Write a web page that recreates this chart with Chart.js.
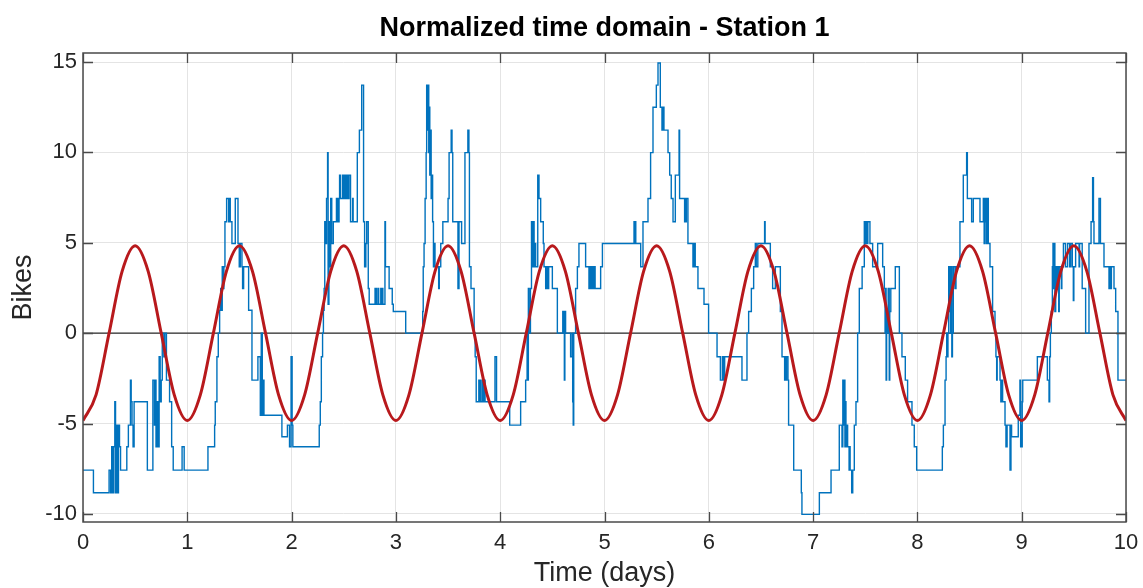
<!DOCTYPE html>
<html>
<head>
<meta charset="utf-8">
<script src="https://cdn.jsdelivr.net/npm/chart.js@4.4.0/dist/chart.umd.min.js"></script>
<style>
  html, body { margin: 0; padding: 0; background: #fff; }
</style>
</head>
<body>
<canvas id="stationChart" width="1143" height="588"></canvas>
<script>
// Tick labels
const xTicks = [0, 1, 2, 3, 4, 5, 6, 7, 8, 9, 10];
const yTicks = [-10, -5, 0, 5, 10, 15];

// Normalized bike count as [time (days), bikes], stairs-style
const bikeSteps = [
  [0,-7.58],[0.10,-8.83],[0.25,-7.58],[0.265,-8.83],[0.275,-6.29],[0.285,-8.83],[0.295,-6.29],[0.305,-3.80],
  [0.312,-8.83],[0.322,-5.09],[0.33,-8.83],[0.34,-5.09],[0.35,-6.29],[0.36,-7.58],[0.42,-6.29],[0.435,-5.09],
  [0.455,-2.60],[0.462,-3.80],[0.47,-5.09],[0.48,-6.29],[0.49,-3.80],[0.617,-7.58],[0.67,-2.60],[0.685,-5.09],
  [0.69,-2.60],[0.70,-6.29],[0.71,-3.80],[0.72,-6.29],[0.73,-1.31],[0.74,-3.80],[0.75,-2.60],[0.76,0],
  [0.775,-1.31],[0.785,0],[0.80,-2.60],[0.83,-3.80],[0.85,-6.29],[0.865,-7.58],[0.95,-6.29],[0.97,-7.58],
  // day 1
  [1.198,-6.29],[1.262,-5.09],[1.268,-3.80],[1.284,-1.31],[1.297,0],[1.31,1.27],[1.32,2.47],[1.326,1.27],
  [1.335,3.67],[1.345,2.47],[1.351,3.67],[1.361,6.16],[1.377,7.45],[1.396,6.16],[1.403,7.45],[1.412,6.16],
  [1.428,4.96],[1.46,7.45],[1.486,4.96],[1.498,3.67],[1.508,4.96],[1.524,3.67],[1.53,2.47],[1.54,3.67],
  [1.588,1.27],[1.62,-2.60],[1.677,-1.31],[1.70,-4.54],[1.709,0],[1.719,-4.54],[1.725,-2.60],[1.735,-4.54],
  [1.907,-5.73],[1.96,-5.09],[1.98,-6.29],[1.995,-1.31],[2.005,-5.09],[2.012,-6.29],
  // day 2
  [2.265,-5.09],[2.275,-3.80],[2.285,-1.31],[2.297,0],[2.305,1.27],[2.312,2.47],[2.318,6.16],[2.33,4.96],
  [2.335,7.45],[2.345,9.99],[2.35,1.6],[2.358,6.16],[2.366,3.67],[2.375,7.45],[2.385,4.96],[2.40,6.16],
  [2.43,7.45],[2.435,6.16],[2.44,7.45],[2.445,6.16],[2.455,7.45],[2.46,8.74],[2.47,7.45],[2.49,8.74],
  [2.50,7.45],[2.51,8.74],[2.52,7.45],[2.53,8.74],[2.54,7.45],[2.55,8.74],[2.565,6.16],[2.585,7.45],
  [2.59,6.16],[2.63,9.99],[2.65,11.23],[2.672,13.72],[2.69,6.16],[2.70,3.67],[2.712,4.96],[2.72,6.16],
  [2.735,2.47],[2.744,1.6],[2.80,2.47],[2.805,1.6],[2.81,2.47],[2.815,1.6],[2.83,2.47],[2.835,1.6],
  [2.855,2.47],[2.86,1.6],[2.87,2.47],[2.875,1.6],[2.895,6.16],[2.90,3.67],[2.935,2.47],[2.965,1.6],
  [2.975,1.2],
  // day 3
  [3.094,0],[3.257,1.2],[3.262,3.67],[3.27,4.96],[3.28,7.45],[3.29,9.99],[3.295,13.72],[3.302,11.23],
  [3.31,13.72],[3.315,9.99],[3.32,12.5],[3.325,8.74],[3.33,11.23],[3.338,7.45],[3.345,8.74],[3.352,6.16],
  [3.36,3.67],[3.37,4.96],[3.375,3.67],[3.41,2.47],[3.416,3.67],[3.43,4.96],[3.45,6.16],[3.50,7.45],
  [3.51,9.99],[3.53,11.23],[3.538,9.99],[3.545,6.16],[3.595,2.47],[3.605,6.16],[3.63,4.96],[3.662,9.99],
  [3.69,11.23],[3.70,9.99],[3.705,3.67],[3.72,2.47],[3.75,0],[3.76,-1.31],[3.77,-3.80],[3.795,-2.60],
  [3.80,-3.80],[3.81,-2.60],[3.815,-3.80],[3.83,-2.60],[3.835,-3.80],[3.845,-2.60],[3.855,-3.80],[3.95,-1.31],
  [3.965,-3.80],
  // day 4
  [4.091,-5.09],[4.196,-3.80],[4.244,-2.60],[4.258,0],[4.262,-2.60],[4.27,2.47],[4.276,0],[4.29,2.47],
  [4.30,6.16],[4.31,3.67],[4.32,6.16],[4.325,3.67],[4.33,4.96],[4.34,3.67],[4.36,8.74],[4.372,7.45],
  [4.388,6.16],[4.413,4.96],[4.42,3.67],[4.436,2.47],[4.445,3.67],[4.45,2.47],[4.455,3.67],[4.46,2.47],
  [4.465,3.67],[4.50,2.47],[4.548,0],[4.60,1.2],[4.605,0],[4.61,1.2],[4.615,-2.60],[4.62,1.2],
  [4.627,0],[4.675,-1.31],[4.69,0],[4.695,-3.80],[4.70,-5.09],[4.705,0],[4.723,2.47],[4.74,3.67],
  [4.755,4.96],[4.819,3.67],[4.851,2.47],[4.86,3.67],[4.87,2.47],[4.88,3.67],[4.89,2.47],[4.90,3.67],
  [4.91,2.47],[4.963,3.67],[4.98,4.96],
  // day 5
  [5.283,6.16],[5.288,4.96],[5.292,6.16],[5.30,4.96],[5.347,3.67],[5.369,6.16],[5.417,7.45],[5.442,9.99],
  [5.465,12.5],[5.497,13.72],[5.513,14.95],[5.535,12.5],[5.551,11.23],[5.555,12.5],[5.56,11.23],[5.565,12.5],
  [5.57,11.23],[5.609,9.99],[5.625,8.74],[5.64,7.45],[5.657,6.16],[5.679,8.74],[5.715,11.23],[5.72,7.45],
  [5.768,6.16],[5.775,7.45],[5.78,6.16],[5.785,7.45],[5.80,4.96],[5.848,3.67],[5.855,4.96],[5.86,3.67],
  [5.865,4.96],[5.87,3.67],[5.896,2.47],[5.954,1.6],[5.998,0],
  // day 6
  [6.079,-1.31],[6.111,-2.60],[6.13,-1.31],[6.142,-2.60],[6.152,-1.31],[6.318,-2.60],[6.366,0],[6.382,1.2],
  [6.408,2.47],[6.43,3.67],[6.446,4.96],[6.455,3.67],[6.47,4.96],[6.535,6.16],[6.54,4.96],[6.59,3.67],
  [6.612,2.47],[6.638,3.67],[6.686,1.2],[6.702,-1.31],[6.727,-2.60],[6.735,-1.31],[6.74,-2.60],[6.745,-1.31],
  [6.759,-2.60],[6.765,-5.09],[6.814,-7.58],[6.887,-8.83],[6.893,-10.03],
  // day 7
  [7.06,-8.83],[7.172,-7.58],[7.251,-5.09],[7.277,-6.29],[7.285,-2.60],[7.292,-5.09],[7.298,-2.60],[7.305,-6.29],
  [7.31,-3.80],[7.315,-6.29],[7.322,-5.09],[7.331,-6.29],[7.345,-7.58],[7.35,-6.29],[7.355,-7.58],[7.37,-8.83],
  [7.38,-7.58],[7.395,-5.09],[7.411,-3.80],[7.427,0],[7.443,2.47],[7.47,3.67],[7.491,6.16],[7.50,4.96],
  [7.505,6.16],[7.51,4.96],[7.515,6.16],[7.52,4.96],[7.525,6.16],[7.545,4.96],[7.571,3.67],[7.619,4.96],
  [7.667,3.67],[7.683,2.47],[7.69,0],[7.695,2.47],[7.70,-2.60],[7.705,1.2],[7.712,0],[7.72,2.47],
  [7.73,-2.60],[7.735,1.2],[7.745,2.47],[7.788,3.67],[7.827,0],[7.852,-1.31],[7.884,-2.60],[7.906,-3.80],
  [7.948,-5.09],[7.97,-6.29],
  // day 8
  [7.993,-7.58],[8.239,-6.29],[8.249,-5.09],[8.265,-2.60],[8.275,-1.31],[8.281,0],[8.287,-1.31],[8.293,0],
  [8.30,3.67],[8.305,1.2],[8.31,3.67],[8.318,0],[8.325,3.67],[8.33,-1.31],[8.336,0],[8.344,3.67],
  [8.36,2.47],[8.37,3.67],[8.408,6.16],[8.44,8.74],[8.472,9.99],[8.479,7.45],[8.52,6.16],[8.536,7.45],
  [8.60,6.16],[8.632,7.45],[8.64,4.96],[8.645,7.45],[8.65,6.16],[8.655,7.45],[8.66,4.96],[8.668,7.45],
  [8.68,4.96],[8.696,3.67],[8.721,1.2],[8.744,0],[8.753,-1.31],[8.76,-2.60],[8.765,-1.31],[8.792,-2.60],
  [8.80,-3.80],[8.805,-2.60],[8.817,-3.80],[8.84,-5.09],[8.849,-6.29],[8.86,-5.09],[8.888,-7.58],[8.897,-5.09],
  [8.903,-5.73],[8.967,-4.54],[8.983,-2.60],
  // day 9
  [8.99,-6.29],[8.995,-5.09],[9.0,-6.29],[9.005,-3.80],[9.01,-2.60],[9.15,-1.31],[9.246,-2.60],[9.262,-3.80],
  [9.268,-1.31],[9.275,0],[9.284,1.2],[9.294,3.67],[9.30,4.96],[9.305,2.47],[9.31,4.96],[9.318,1.2],
  [9.326,3.67],[9.333,2.47],[9.342,3.67],[9.355,1.2],[9.36,3.67],[9.38,2.47],[9.385,3.67],[9.40,4.96],
  [9.42,3.67],[9.44,4.96],[9.46,3.67],[9.47,4.96],[9.485,3.67],[9.495,1.8],[9.50,3.67],[9.517,4.96],
  [9.55,3.67],[9.555,4.96],[9.58,2.47],[9.613,0],[9.645,4.96],[9.665,6.16],[9.68,8.6],[9.688,6.16],
  [9.693,4.96],[9.741,7.45],[9.755,4.96],[9.789,3.67],[9.837,2.47],[9.845,3.67],[9.85,2.47],[9.86,3.67],
  [9.885,2.47],[9.901,1.2],[9.923,-2.60],[10,-2.60]
];

// Daily fit curve, every 1/8 day
const fitPoints = [
  [0,-4.84],[0.125,-3.42],[0.25,0],[0.375,3.42],[0.5,4.84],[0.625,3.42],[0.75,0],[0.875,-3.42],
  [1,-4.84],[1.125,-3.42],[1.25,0],[1.375,3.42],[1.5,4.84],[1.625,3.42],[1.75,0],[1.875,-3.42],
  [2,-4.84],[2.125,-3.42],[2.25,0],[2.375,3.42],[2.5,4.84],[2.625,3.42],[2.75,0],[2.875,-3.42],
  [3,-4.84],[3.125,-3.42],[3.25,0],[3.375,3.42],[3.5,4.84],[3.625,3.42],[3.75,0],[3.875,-3.42],
  [4,-4.84],[4.125,-3.42],[4.25,0],[4.375,3.42],[4.5,4.84],[4.625,3.42],[4.75,0],[4.875,-3.42],
  [5,-4.84],[5.125,-3.42],[5.25,0],[5.375,3.42],[5.5,4.84],[5.625,3.42],[5.75,0],[5.875,-3.42],
  [6,-4.84],[6.125,-3.42],[6.25,0],[6.375,3.42],[6.5,4.84],[6.625,3.42],[6.75,0],[6.875,-3.42],
  [7,-4.84],[7.125,-3.42],[7.25,0],[7.375,3.42],[7.5,4.84],[7.625,3.42],[7.75,0],[7.875,-3.42],
  [8,-4.84],[8.125,-3.42],[8.25,0],[8.375,3.42],[8.5,4.84],[8.625,3.42],[8.75,0],[8.875,-3.42],
  [9,-4.84],[9.125,-3.42],[9.25,0],[9.375,3.42],[9.5,4.84],[9.625,3.42],[9.75,0],[9.875,-3.42],
  [10,-4.84]
];

const zeroLine = [[0, 0], [10, 0]];

const chartTitle = 'Normalized time domain - Station 1';
const FONT = "'Liberation Sans', Arial, Helvetica, sans-serif";
const TEXT = '#262626';

function toXY(list) {
    return list.map(p => ({ x: p[0], y: p[1] }));
}

// Box around the axes with inward ticks on all four sides, title centred over the axes
const boxPlugin = {
    id: 'boxTicks',
    afterDatasetsDraw(chart) {
        const ctx = chart.ctx;
        const a = chart.chartArea;
        const xs = chart.scales.x;
        const ys = chart.scales.y;
        const len = 10;
        ctx.save();
        ctx.strokeStyle = '#4a4a4a';
        ctx.lineWidth = 1.5;
        ctx.strokeRect(a.left, a.top, a.right - a.left, a.bottom - a.top);
        ctx.lineWidth = 1.3;
        ctx.beginPath();
        xTicks.forEach(v => {
            const px = Math.round(xs.getPixelForValue(v)) + 0.5;
            ctx.moveTo(px, a.bottom); ctx.lineTo(px, a.bottom - len);
            ctx.moveTo(px, a.top); ctx.lineTo(px, a.top + len);
        });
        yTicks.forEach(v => {
            const py = Math.round(ys.getPixelForValue(v)) + 0.5;
            ctx.moveTo(a.left, py); ctx.lineTo(a.left + len, py);
            ctx.moveTo(a.right, py); ctx.lineTo(a.right - len, py);
        });
        ctx.stroke();

        ctx.fillStyle = '#000';
        ctx.font = 'bold 27px ' + FONT;
        ctx.textAlign = 'center';
        ctx.textBaseline = 'alphabetic';
        ctx.fillText(chartTitle, (a.left + a.right) / 2, 36);
        ctx.restore();
    }
};

const ctx = document.getElementById('stationChart').getContext('2d');
new Chart(ctx, {
    type: 'line',
    data: {
        datasets: [
            {
                label: 'Fit',
                data: toXY(fitPoints),
                borderColor: '#b8191c',
                borderWidth: 3,
                pointRadius: 0,
                cubicInterpolationMode: 'monotone',
                order: 0
            },
            {
                label: 'Bikes',
                data: toXY(bikeSteps),
                borderColor: '#0072bd',
                borderWidth: 1.4,
                pointRadius: 0,
                stepped: true,
                order: 1
            },
            {
                label: 'Zero',
                data: toXY(zeroLine),
                borderColor: '#2b2b2b',
                borderWidth: 1.2,
                pointRadius: 0,
                order: 2
            }
        ]
    },
    options: {
        responsive: false,
        animation: false,
        devicePixelRatio: 1,
        layout: { padding: { left: 0, right: 17, top: 53, bottom: 0 } },
        plugins: {
            legend: { display: false },
            tooltip: { enabled: false },
            title: { display: false }
        },
        scales: {
            x: {
                type: 'linear',
                min: 0,
                max: 10,
                afterBuildTicks: scale => { scale.ticks = xTicks.map(v => ({ value: v })); },
                afterFit: scale => {
                    scale.height = 66;
                    scale.paddingLeft = 0;
                    scale.paddingRight = 0;
                },
                grid: { color: '#e4e4e4', lineWidth: 1, drawTicks: false },
                border: { display: false },
                ticks: {
                    color: TEXT,
                    font: { family: FONT, size: 22 },
                    padding: 8,
                    maxRotation: 0,
                    autoSkip: false
                },
                title: {
                    display: true,
                    text: 'Time (days)',
                    color: TEXT,
                    font: { family: FONT, size: 27 },
                    padding: { top: 0, bottom: -2 }
                }
            },
            y: {
                type: 'linear',
                min: -10.45,
                max: 15.5,
                afterBuildTicks: scale => { scale.ticks = yTicks.map(v => ({ value: v })); },
                afterFit: scale => {
                    scale.width = 83;
                    scale.paddingTop = 0;
                    scale.paddingBottom = 0;
                },
                grid: { color: '#e4e4e4', lineWidth: 1, drawTicks: false },
                border: { display: false },
                ticks: {
                    color: TEXT,
                    font: { family: FONT, size: 22 },
                    padding: 6,
                    autoSkip: false
                },
                title: {
                    display: true,
                    text: 'Bikes',
                    color: TEXT,
                    font: { family: FONT, size: 27 },
                    padding: { top: 7, bottom: 0 }
                }
            }
        }
    },
    plugins: [boxPlugin]
});
</script>
</body>
</html>
